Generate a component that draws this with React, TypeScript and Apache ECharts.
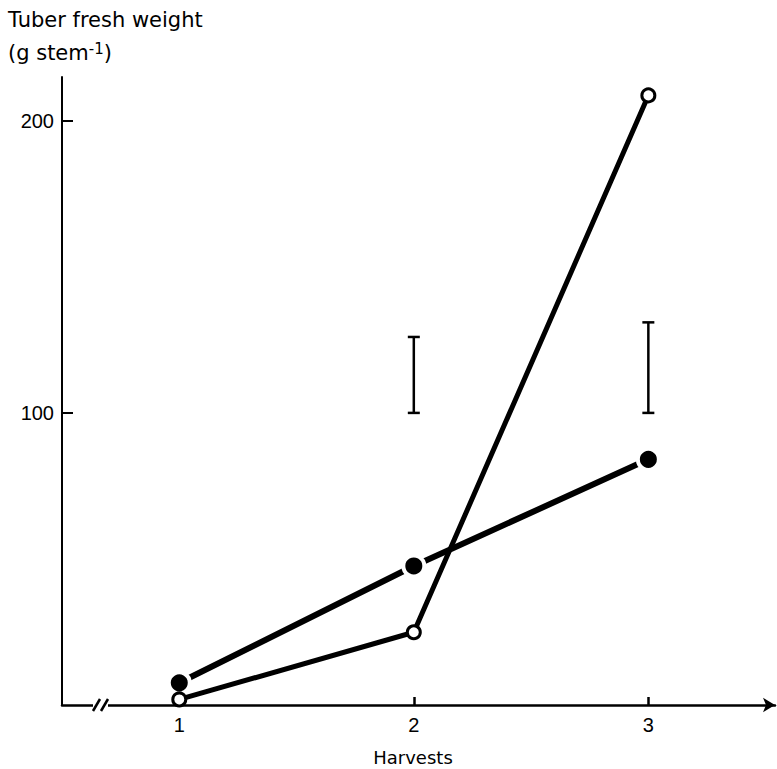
import React, { useEffect, useRef } from "react";
import * as echarts from "echarts";

const harvests = [1, 2, 3];
const openSeries = [1.9, 24.9, 208.7];
const filledSeries = [7.6, 47.6, 84.1];
const errorBars = [
  [2, 100, 126],
  [3, 100, 131],
];
const yTicks = [100, 200];

const NUMFONT = "Liberation Sans";
const TXTFONT = "DejaVu Sans";

export default function App() {
  const ref = useRef<HTMLDivElement>(null);
  useEffect(() => {
    document.body.style.margin = "0";
    const chart = echarts.init(ref.current!, null, { renderer: "svg" });
    const option: any = {
      animation: false,
      backgroundColor: "#fff",
      textStyle: { fontFamily: NUMFONT, color: "#000" },
      grid: { left: 62, right: 2, top: 77, bottom: 64, containLabel: false },
      xAxis: {
        type: "value",
        min: 0.5,
        max: 3.54,
        splitLine: { show: false },
        axisLine: {
          show: true,
          lineStyle: { color: "#000", width: 2.5 },
          symbol: ["none", "arrow"],
          symbolSize: [11, 12],
        },
        axisTick: {
          show: true,
          inside: true,
          length: 8,
          customValues: harvests,
          lineStyle: { color: "#000", width: 2.5 },
        },
        axisLabel: {
          show: true,
          customValues: harvests,
          margin: 10,
          fontSize: 20,
          color: "#000",
          fontFamily: NUMFONT,
        },
      },
      yAxis: {
        type: "value",
        min: 0,
        max: 215,
        splitLine: { show: false },
        axisLine: { show: true, lineStyle: { color: "#000", width: 2 } },
        axisTick: {
          show: true,
          inside: true,
          length: 11,
          customValues: yTicks,
          lineStyle: { color: "#000", width: 2 },
        },
        axisLabel: {
          show: true,
          customValues: yTicks,
          margin: 8,
          fontSize: 20,
          color: "#000",
          fontFamily: NUMFONT,
        },
      },
      graphic: [
        {
          type: "text",
          left: 8,
          top: 9,
          style: {
            text: "Tuber fresh weight",
            fontSize: 21,
            fontFamily: TXTFONT,
            fill: "#000",
          },
        },
        {
          type: "text",
          left: 8,
          top: 41,
          style: {
            text: "(g stem{sup|-1})",
            fontSize: 21,
            fontFamily: TXTFONT,
            fill: "#000",
            rich: {
              sup: { fontSize: 15, fontFamily: TXTFONT, verticalAlign: "top", padding: [0, 0, 9, 0] },
            },
          },
        },
        {
          type: "text",
          x: 413,
          y: 757,
          style: {
            text: "Harvests",
            fontSize: 18,
            fontFamily: TXTFONT,
            fill: "#000",
            align: "center",
            verticalAlign: "middle",
          },
        },
        {
          type: "rect",
          shape: { x: 93, y: 701, width: 15, height: 8 },
          style: { fill: "#fff" },
          z: 50,
        },
        {
          type: "line",
          shape: { x1: 93, y1: 711, x2: 100, y2: 699 },
          style: { stroke: "#000", lineWidth: 2.5 },
          z: 51,
        },
        {
          type: "line",
          shape: { x1: 101, y1: 711, x2: 108, y2: 699 },
          style: { stroke: "#000", lineWidth: 2.5 },
          z: 51,
        },
      ],
      series: [
        {
          type: "custom",
          name: "LSD",
          data: errorBars,
          z: 1,
          renderItem: (params: any, api: any) => {
            const x = api.value(0);
            const lo = api.coord([x, api.value(1)]);
            const hi = api.coord([x, api.value(2)]);
            const cap = 6;
            const st = { stroke: "#000", lineWidth: 2.5 };
            return {
              type: "group",
              children: [
                { type: "line", shape: { x1: lo[0], y1: lo[1], x2: hi[0], y2: hi[1] }, style: st },
                { type: "line", shape: { x1: lo[0] - cap, y1: lo[1], x2: lo[0] + cap, y2: lo[1] }, style: st },
                { type: "line", shape: { x1: hi[0] - cap, y1: hi[1], x2: hi[0] + cap, y2: hi[1] }, style: st },
              ],
            };
          },
        },
        {
          type: "line",
          name: "filled",
          z: 2,
          data: harvests.map((h, i) => [h, filledSeries[i]]),
          symbol: "circle",
          symbolSize: 21,
          lineStyle: { color: "#000", width: 6 },
          itemStyle: { color: "#000", borderColor: "#fff", borderWidth: 4 },
        },
        {
          type: "line",
          name: "open",
          z: 3,
          data: harvests.map((h, i) => [h, openSeries[i]]),
          symbol: "circle",
          symbolSize: 13,
          lineStyle: { color: "#000", width: 5 },
          itemStyle: { color: "#fff", borderColor: "#000", borderWidth: 3 },
        },
      ],
    };
    chart.setOption(option);
    return () => chart.dispose();
  }, []);
  return <div ref={ref} style={{ width: 777, height: 769 }} />;
}
